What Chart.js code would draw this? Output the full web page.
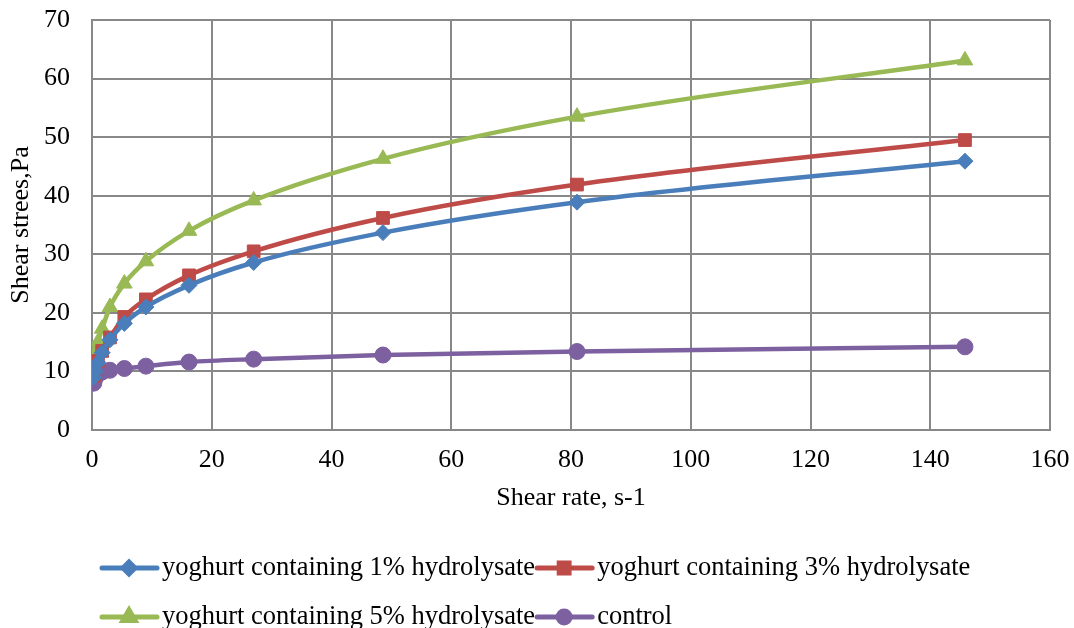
<!DOCTYPE html>
<html>
<head>
<meta charset="utf-8">
<script src="https://cdn.jsdelivr.net/npm/chart.js@4"></script>
<style>
  body { margin: 0; background: #fff; }
  #wrap { width: 1074px; height: 628px; }
</style>
</head>
<body>
<div id="wrap"><canvas id="myChart" width="1074" height="628"></canvas></div>
<script>
// shear rate, s-1
const shearRate = [0.3, 0.5, 1, 1.7, 3, 5.4, 9, 16.2, 27, 48.6, 81, 145.8];
// shear stress, Pa
const hyd1 = [9.0, 10.0, 11.5, 13.2, 15.4, 18.2, 21.0, 24.7, 28.6, 33.7, 38.9, 45.9];
const hyd3 = [9.2, 10.3, 11.8, 13.5, 15.8, 19.3, 22.3, 26.4, 30.5, 36.2, 41.9, 49.5];
const hyd5 = [11.0, 13.0, 15.0, 17.3, 21.0, 25.0, 28.8, 34.0, 39.2, 46.3, 53.5, 63.1];
const control = [8.0, 8.8, 9.5, 9.9, 10.2, 10.5, 10.9, 11.6, 12.1, 12.8, 13.4, 14.2];

const seriesNames = ["yoghurt containing 1% hydrolysate", "yoghurt containing 3% hydrolysate",
  "yoghurt containing 5% hydrolysate", "control"];
const xTicks = [0, 20, 40, 60, 80, 100, 120, 140, 160];
const yTicks = [0, 10, 20, 30, 40, 50, 60, 70];

const FONT = "'Liberation Serif', 'Times New Roman', serif";
const FSIZE = 26;

function pts(ys) {
  return shearRate.map((x, i) => ({ x: x, y: ys[i] }));
}

function makeSet(label, ys, color, style, radius) {
  return {
    label: label,
    data: pts(ys),
    borderColor: color,
    backgroundColor: color,
    borderWidth: 4.5,
    pointStyle: style,
    pointRadius: radius,
    pointHoverRadius: radius,
    pointBorderWidth: 1,
    cubicInterpolationMode: "monotone",
    fill: false
  };
}

// legend drawn under the plot: line + marker + name, two per row
const lineLegend = {
  id: "lineLegend",
  afterDraw(chart) {
    const ctx = chart.ctx;
    ctx.save();
    ctx.font = "26.5px " + FONT;
    ctx.textBaseline = "middle";
    let rows = [568, 617];
    chart.data.datasets.forEach((ds, i) => {
      let row = Math.floor(i / 2);
      let x = 102;
      if (i % 2 == 1) {
        x = 102 + 60 + ctx.measureText(chart.data.datasets[i - 1].label).width + 2;
      }
      let y = rows[row];
      ctx.strokeStyle = ds.borderColor;
      ctx.lineWidth = 5;
      ctx.lineCap = "round";
      ctx.beginPath();
      ctx.moveTo(x, y);
      ctx.lineTo(x + 55, y);
      ctx.stroke();
      ctx.fillStyle = ds.backgroundColor;
      ctx.strokeStyle = ds.borderColor;
      Chart.helpers.drawPoint(ctx, { pointStyle: ds.pointStyle, radius: ds.pointRadius - 2, rotation: 0, borderWidth: 1 }, x + 27, y);
      ctx.fillStyle = "#000";
      ctx.fillText(ds.label, x + 60, y);
    });
    ctx.restore();
  }
};

const config = {
  type: "line",
  data: {
    datasets: [
      makeSet(seriesNames[0], hyd1, "#4a7ebb", "rectRot", 8),
      makeSet(seriesNames[1], hyd3, "#be4b48", "rect", 9),
      makeSet(seriesNames[2], hyd5, "#98b954", "triangle", 9),
      makeSet(seriesNames[3], control, "#7d60a0", "circle", 8)
    ]
  },
  options: {
    responsive: false,
    animation: false,
    layout: { padding: { left: 0, right: 24, top: 20, bottom: 108 } },
    plugins: {
      legend: { display: false },
      tooltip: { enabled: false }
    },
    scales: {
      x: {
        type: "linear",
        min: 0,
        max: 160,
        afterBuildTicks: (s) => { s.ticks = xTicks.map(v => ({ value: v })); },
        afterFit: (s) => { s.height = 90; s.paddingLeft = 0; s.paddingRight = 0; },
        grid: { color: "#888", lineWidth: 2, drawTicks: false },
        border: { color: "#888", width: 2 },
        ticks: { color: "#000", font: { family: FONT, size: FSIZE }, padding: 15, maxRotation: 0 },
        title: { display: true, text: "Shear rate, s-1", color: "#000",
          font: { family: FONT, size: FSIZE }, padding: { top: 4, bottom: 6 } }
      },
      y: {
        min: 0,
        max: 70,
        afterBuildTicks: (s) => { s.ticks = yTicks.map(v => ({ value: v })); },
        afterFit: (s) => { s.width = 92; s.paddingTop = 0; s.paddingBottom = 0; },
        grid: { color: "#888", lineWidth: 2, drawTicks: false },
        border: { color: "#888", width: 2 },
        ticks: { color: "#000", font: { family: FONT, size: FSIZE }, padding: 22 },
        title: { display: true, text: "Shear strees,Pa", color: "#000",
          font: { family: FONT, size: FSIZE }, padding: { top: 6, bottom: 0 } }
      }
    }
  },
  plugins: [lineLegend]
};

let myChart = new Chart("myChart", config);
</script>
</body>
</html>
